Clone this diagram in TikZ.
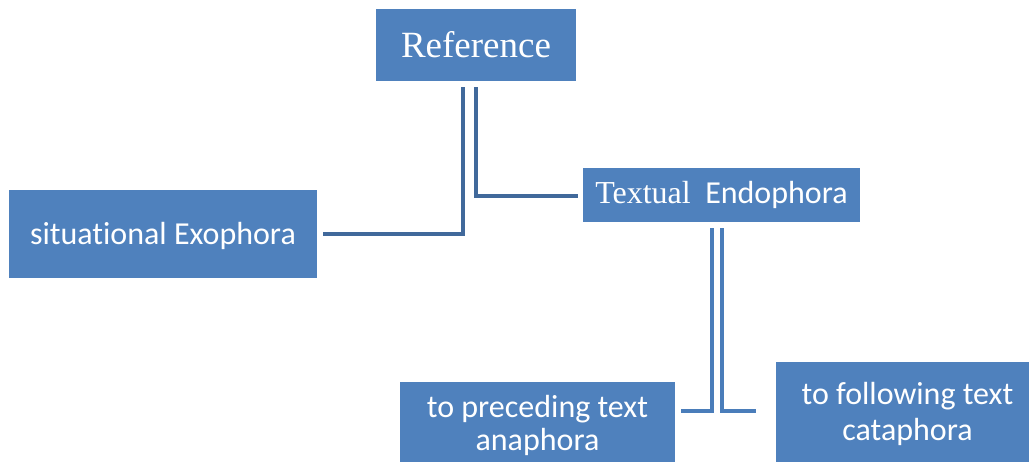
\documentclass[tikz,border=0pt]{standalone}
\usepackage{fontspec}
\setmainfont{Carlito}[Ligatures=NoCommon]
\newfontfamily\serifface{Liberation Serif}
\definecolor{boxblue}{HTML}{4F81BD}
\definecolor{linedark}{HTML}{41699B}
\definecolor{linelight}{HTML}{4A7DBA}
\begin{document}
\begin{tikzpicture}[x=1pt,y=-1pt,
  box/.style={fill=boxblue, draw=none, text=white, inner sep=0pt, align=center, anchor=center},
  conn/.style={line width=4pt, line join=miter},
]
\useasboundingbox (0,0) rectangle (1029,461);
\begin{scope}
\clip (0,0) rectangle (1029,461);
\node[box, minimum width=200pt, minimum height=72pt, font=\serifface\fontsize{37}{42}\selectfont] (ref) at (476,45) {Reference};
\node[box, minimum width=308pt, minimum height=88pt, font=\fontsize{32}{36}\selectfont, text depth=2pt] (exo) at (163,234) {situational Exophora};
\node[box, minimum width=277pt, minimum height=54pt, font=\fontsize{32}{36}\selectfont] (endo) at (721.5,195) {{\serifface Textual}\ \ Endophora};
\node[box, minimum width=275pt, minimum height=86pt, font=\fontsize{32}{33}\selectfont] (ana) at (537.5,425) {to preceding text\\anaphora};
\node[box, minimum width=263pt, minimum height=103pt, font=\fontsize{32}{36}\selectfont] (cata) at (907.5,413.5) {to following text\\cataphora};
\end{scope}
% connectors
\coordinate (r1) at (463,87);
\coordinate (r1c) at (463,234);
\coordinate (e1) at (323,234);
\coordinate (r2) at (476,87);
\coordinate (r2c) at (476,196);
\coordinate (t1) at (578,196);
\coordinate (n1) at (712,228);
\coordinate (n1c) at (712,411);
\coordinate (a1) at (681,411);
\coordinate (n2) at (722,228);
\coordinate (n2c) at (722,411);
\coordinate (c1) at (756,411);
\draw[conn, linedark] (r1) -- (r1c) -- (e1);
\draw[conn, linedark] (r2) -- (r2c) -- (t1);
\draw[conn, linelight] (n1) -- (n1c) -- (a1);
\draw[conn, linelight] (n2) -- (n2c) -- (c1);
\end{tikzpicture}
\end{document}
